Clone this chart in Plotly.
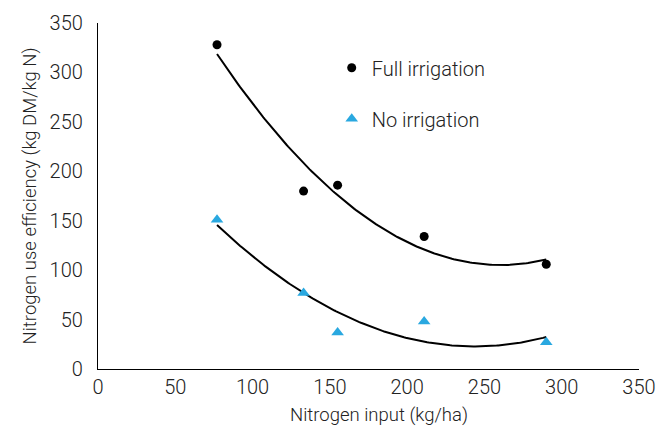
import numpy as np
import plotly.graph_objects as go

n_input = [77, 133, 155, 211, 290]
full_irrigation = [328, 180, 186, 134, 106]
no_irrigation = [151, 77, 37, 48, 27]

x_ticks = [0, 50, 100, 150, 200, 250, 300, 350]
y_ticks = [0, 50, 100, 150, 200, 250, 300, 350]

FONT = "Roboto, Liberation Sans, sans-serif"

xs = np.linspace(min(n_input), max(n_input), 200)
fit_full = np.polyval(np.polyfit(n_input, full_irrigation, 2), xs)
fit_no = np.polyval(np.polyfit(n_input, no_irrigation, 2), xs)

fig = go.Figure()
fig.add_trace(go.Scatter(x=xs, y=fit_full, mode="lines", line=dict(color="black", width=2),
                         showlegend=False, hoverinfo="skip"))
fig.add_trace(go.Scatter(x=xs, y=fit_no, mode="lines", line=dict(color="black", width=2),
                         showlegend=False, hoverinfo="skip"))
fig.add_trace(go.Scatter(x=n_input, y=full_irrigation, mode="markers", name="Full irrigation",
                         marker=dict(symbol="circle", color="black", size=9), legendgroup="a"))
fig.add_trace(go.Scatter(x=n_input, y=no_irrigation, mode="markers", name="No irrigation",
                         marker=dict(symbol="triangle-up", color="#29A8E0", size=11), legendgroup="b"))

TITLE_FONT = dict(family=FONT, size=18.5, color="#222", weight=300)

fig.update_layout(
    width=662, height=418,
    margin=dict(l=90, r=31, t=15, b=57),
    paper_bgcolor="white", plot_bgcolor="white",
    font=dict(family=FONT, size=19, color="#222", weight=300),
    legend=dict(x=0.432, y=0.927, xanchor="left", yanchor="top", bgcolor="rgba(0,0,0,0)",
                tracegroupgap=22, font=dict(size=20), itemwidth=30),
    xaxis=dict(range=[0, 350], tickvals=x_ticks, showgrid=False, zeroline=False,
               showline=True, linecolor="black", linewidth=1.2,
               ticks="", automargin=False, tickfont=dict(size=20)),
    yaxis=dict(range=[0, 350], tickvals=y_ticks, showgrid=False, zeroline=False,
               showline=True, linecolor="black", linewidth=1.2, tickfont=dict(size=20),
               ticks="outside", ticklen=10, tickcolor="rgba(0,0,0,0)", automargin=False,
               title=dict(text="Nitrogen use efficiency (kg DM/kg N)", standoff=8,
                          font=TITLE_FONT)),
    annotations=[dict(text="Nitrogen input (kg/ha)", xref="paper", yref="paper",
                      x=0.519, y=-0.133, xanchor="center", yanchor="middle",
                      showarrow=False, font=TITLE_FONT)],
)

fig.write_html("out.html")
